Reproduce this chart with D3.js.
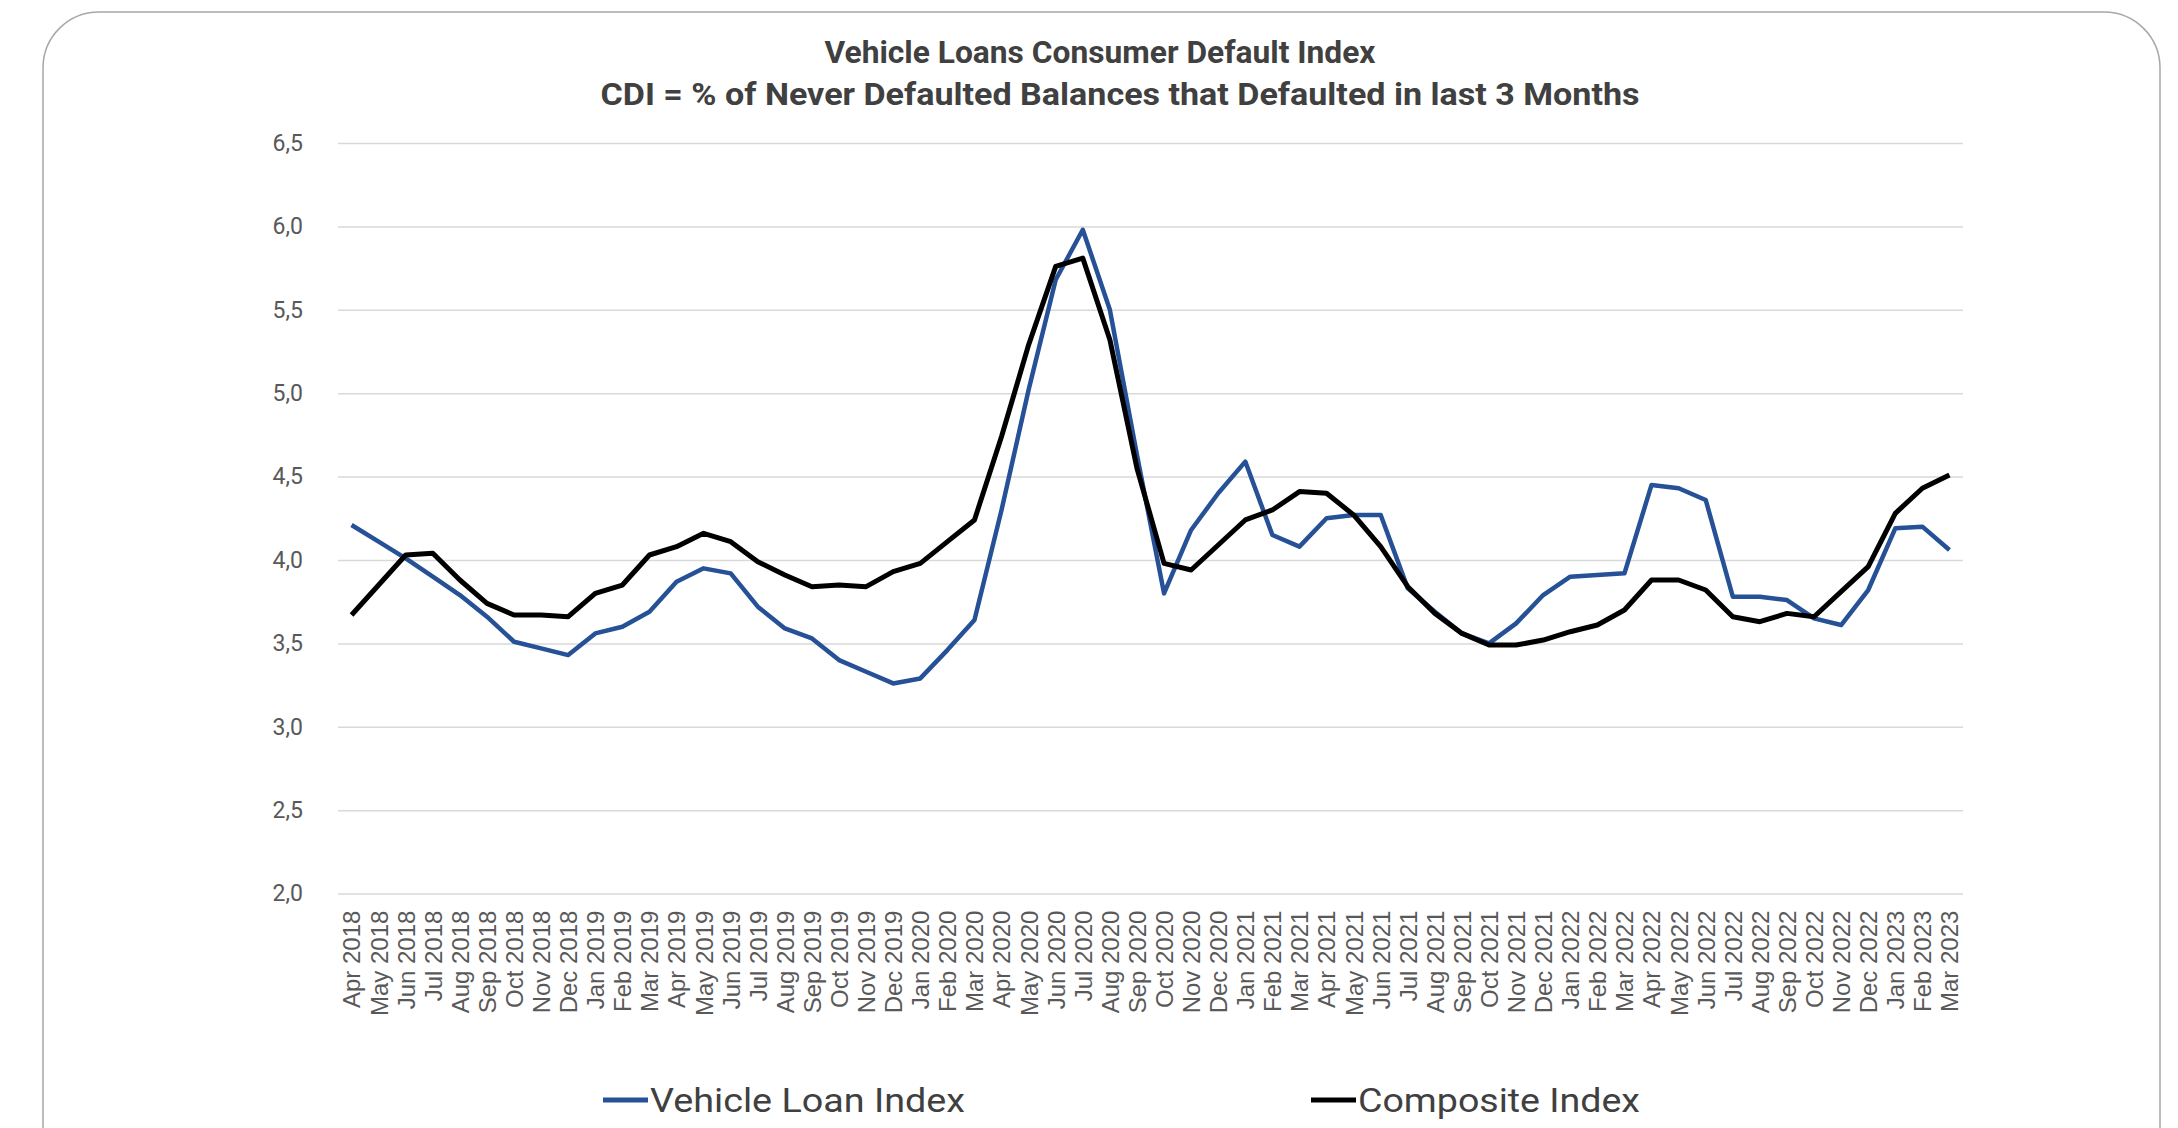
<!DOCTYPE html>
<html>
<head>
<meta charset="utf-8">
<script src="https://cdn.jsdelivr.net/npm/d3@7"></script>
<style>
  html, body { margin: 0; padding: 0; background: #ffffff; }
  svg { display: block; }
</style>
</head>
<body>
<svg id="chart" width="2178" height="1128"></svg>
<script>
const months = [
  "Apr 2018","May 2018","Jun 2018","Jul 2018","Aug 2018","Sep 2018","Oct 2018","Nov 2018","Dec 2018",
  "Jan 2019","Feb 2019","Mar 2019","Apr 2019","May 2019","Jun 2019","Jul 2019","Aug 2019","Sep 2019","Oct 2019","Nov 2019","Dec 2019",
  "Jan 2020","Feb 2020","Mar 2020","Apr 2020","May 2020","Jun 2020","Jul 2020","Aug 2020","Sep 2020","Oct 2020","Nov 2020","Dec 2020",
  "Jan 2021","Feb 2021","Mar 2021","Apr 2021","May 2021","Jun 2021","Jul 2021","Aug 2021","Sep 2021","Oct 2021","Nov 2021","Dec 2021",
  "Jan 2022","Feb 2022","Mar 2022","Apr 2022","May 2022","Jun 2022","Jul 2022","Aug 2022","Sep 2022","Oct 2022","Nov 2022","Dec 2022",
  "Jan 2023","Feb 2023","Mar 2023"
];

const vehicleLoanIndex = [
  4.21, 4.11, 4.01, 3.90, 3.79, 3.66, 3.51, 3.47, 3.43,
  3.56, 3.60, 3.69, 3.87, 3.95, 3.92, 3.72, 3.59, 3.53, 3.40, 3.33, 3.26,
  3.29, 3.46, 3.64, 4.30, 5.02, 5.68, 5.98, 5.50, 4.63, 3.80, 4.18, 4.40,
  4.59, 4.15, 4.08, 4.25, 4.27, 4.27, 3.83, 3.69, 3.56, 3.50, 3.62, 3.79,
  3.90, 3.91, 3.92, 4.45, 4.43, 4.36, 3.78, 3.78, 3.76, 3.65, 3.61, 3.82,
  4.19, 4.20, 4.06
];

const compositeIndex = [
  3.67, 3.85, 4.03, 4.04, 3.88, 3.74, 3.67, 3.67, 3.66,
  3.80, 3.85, 4.03, 4.08, 4.16, 4.11, 3.99, 3.91, 3.84, 3.85, 3.84, 3.93,
  3.98, 4.11, 4.24, 4.74, 5.29, 5.76, 5.81, 5.32, 4.55, 3.98, 3.94, 4.09,
  4.24, 4.30, 4.41, 4.40, 4.27, 4.08, 3.84, 3.68, 3.56, 3.49, 3.49, 3.52,
  3.57, 3.61, 3.70, 3.88, 3.88, 3.82, 3.66, 3.63, 3.68, 3.66, 3.81, 3.96,
  4.28, 4.43, 4.51
];

const yTicks = [2.0, 2.5, 3.0, 3.5, 4.0, 4.5, 5.0, 5.5, 6.0, 6.5];
const titleLines = [
  "Vehicle Loans Consumer Default Index",
  "CDI = % of Never Defaulted Balances that Defaulted in last 3 Months"
];
const seriesNames = ["Vehicle Loan Index", "Composite Index"];
const seriesColors = ["#265196", "#000000"];

(function () {
const svg = d3.select("#chart");

// card frame
svg.append("rect")
  .attr("x", 43).attr("y", 12)
  .attr("width", 2117).attr("height", 1250)
  .attr("rx", 56).attr("ry", 56)
  .attr("fill", "#ffffff")
  .attr("stroke", "#a8a8a8")
  .attr("stroke-width", 1.5);

const plotLeft = 338, plotRight = 1963, plotTop = 143, plotBottom = 893.6;

const x = d3.scalePoint().domain(months).range([plotLeft, plotRight]).padding(0.5);
const y = d3.scaleLinear().domain([2, 6.5]).range([plotBottom, plotTop]);

const locale = d3.formatLocale({decimal: ",", thousands: ".", grouping: [3], currency: ["", "€"]});
const fmt = locale.format(".1f");

// titles
const titleWidths = [551, 1039];
const titleCx = [1100, 1120];
const titleY = [63, 105];
titleLines.forEach((t, i) => {
  svg.append("text")
    .attr("x", titleCx[i]).attr("y", titleY[i])
    .attr("text-anchor", "middle")
    .attr("font-family", "Roboto, 'Liberation Sans', sans-serif")
    .attr("font-weight", "bold")
    .attr("font-size", 32)
    .attr("fill", "#404040")
    .attr("textLength", titleWidths[i])
    .attr("lengthAdjust", "spacingAndGlyphs")
    .text(t);
});

// y axis + gridlines
const yAxis = d3.axisLeft(y)
  .tickValues(yTicks)
  .tickSize(-(plotRight - plotLeft))
  .tickPadding(35)
  .tickFormat(fmt);

const gy = svg.append("g")
  .attr("transform", `translate(${plotLeft},0)`)
  .call(yAxis);
gy.select(".domain").remove();
gy.selectAll(".tick line")
  .attr("stroke", "#d9d9d9")
  .attr("stroke-width", 1.5);
gy.selectAll(".tick text")
  .attr("font-family", "Roboto, 'Liberation Sans', sans-serif")
  .attr("font-size", 23)
  .attr("fill", "#595959");

// x axis
const xAxis = d3.axisBottom(x).tickSize(0);
const gx = svg.append("g")
  .attr("transform", `translate(0,${plotBottom})`)
  .call(xAxis);
gx.select(".domain").remove();
gx.selectAll(".tick text")
  .attr("transform", "rotate(-90)")
  .attr("x", -17)
  .attr("y", 0)
  .attr("dy", "0.35em")
  .attr("text-anchor", "end")
  .attr("font-family", "'Liberation Sans', Arial, sans-serif")
  .attr("font-size", 24)
  .attr("fill", "#595959");

// lines
const line = d3.line()
  .x((d, i) => x(months[i]))
  .y(d => y(d));

const seriesData = [vehicleLoanIndex, compositeIndex];
const widths = [4.5, 5];
seriesData.forEach((s, k) => {
  svg.append("path")
    .datum(s)
    .attr("d", line)
    .attr("fill", "none")
    .attr("stroke", seriesColors[k])
    .attr("stroke-width", widths[k])
    .attr("stroke-linejoin", "round");
});

// legend
const legendX = [603, 1311];
const legendTextW = [315, 282];
const legendY = 1100;
seriesNames.forEach((n, k) => {
  svg.append("line")
    .attr("x1", legendX[k]).attr("x2", legendX[k] + 45)
    .attr("y1", legendY).attr("y2", legendY)
    .attr("stroke", seriesColors[k])
    .attr("stroke-width", 5);
  svg.append("text")
    .attr("x", legendX[k] + 47)
    .attr("y", legendY)
    .attr("dy", "0.36em")
    .attr("font-family", "Roboto, 'Liberation Sans', sans-serif")
    .attr("font-size", 34)
    .attr("fill", "#404040")
    .attr("textLength", legendTextW[k])
    .attr("lengthAdjust", "spacingAndGlyphs")
    .text(n);
});
})();
</script>
</body>
</html>
